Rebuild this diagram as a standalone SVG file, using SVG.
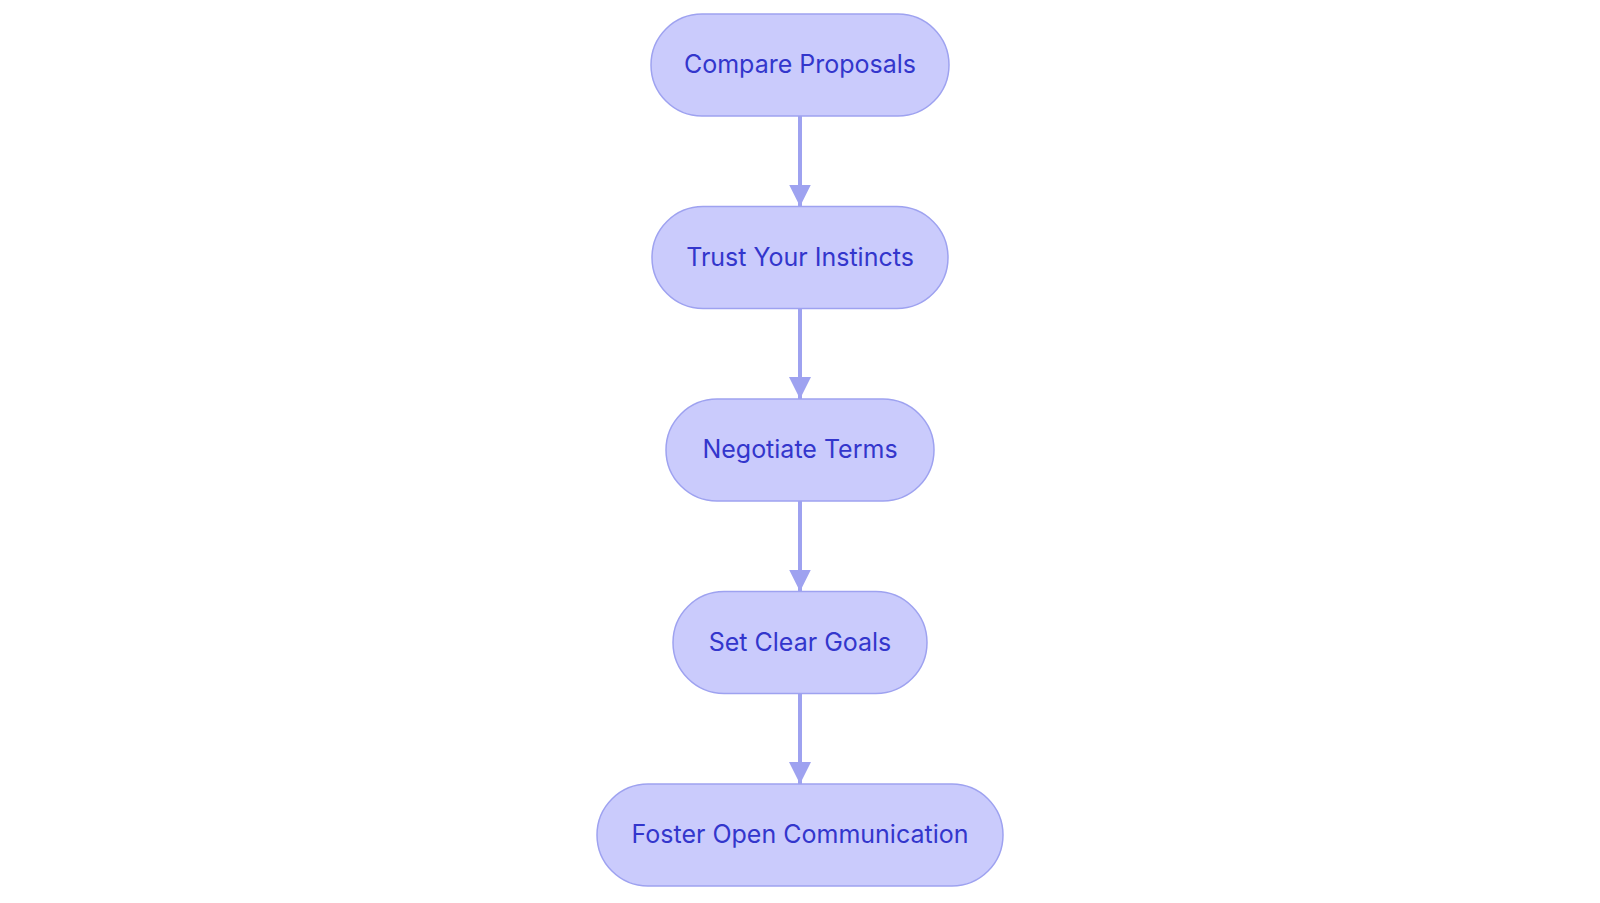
<svg xmlns="http://www.w3.org/2000/svg" width="1600" height="903" viewBox="0 0 1600 903">
<style>
.node rect{fill:#cacbfc;stroke:#9ea2f0;stroke-width:1.5}
.node text{font-family:Inter,"Noto Sans","Liberation Sans",sans-serif;font-size:25px;font-weight:400;fill:#3336cc;text-anchor:middle;dominant-baseline:central}
.edge{stroke:#9ea2f0;stroke-width:4;fill:none}
</style>
<defs>
<marker id="arr" markerWidth="22" markerHeight="22" refX="22" refY="11" orient="auto" markerUnits="userSpaceOnUse">
<path d="M0,0 L22,11 L0,22 Z" fill="#9ea2f0"/>
</marker>
</defs>
<rect width="1600" height="903" fill="#ffffff"/>
<g id="connectors">
<path class="edge" d="M800,116 L800,206.5" marker-end="url(#arr)"/>
<path class="edge" d="M800,308.5 L800,399" marker-end="url(#arr)"/>
<path class="edge" d="M800,501 L800,591.5" marker-end="url(#arr)"/>
<path class="edge" d="M800,693.5 L800,784" marker-end="url(#arr)"/>
</g>
<g id="n1" class="node"><rect x="651" y="14" width="298" height="102" rx="51"/><text x="800" y="64">Compare Proposals</text></g>
<g id="n2" class="node"><rect x="652" y="206.5" width="296" height="102" rx="51"/><text x="800" y="256.5">Trust Your Instincts</text></g>
<g id="n3" class="node"><rect x="666" y="399" width="268" height="102" rx="51"/><text x="800" y="449">Negotiate Terms</text></g>
<g id="n4" class="node"><rect x="673" y="591.5" width="254" height="102" rx="51"/><text x="800" y="641.5">Set Clear Goals</text></g>
<g id="n5" class="node"><rect x="597" y="784" width="406" height="102" rx="51"/><text x="800" y="834">Foster Open Communication</text></g>
</svg>
